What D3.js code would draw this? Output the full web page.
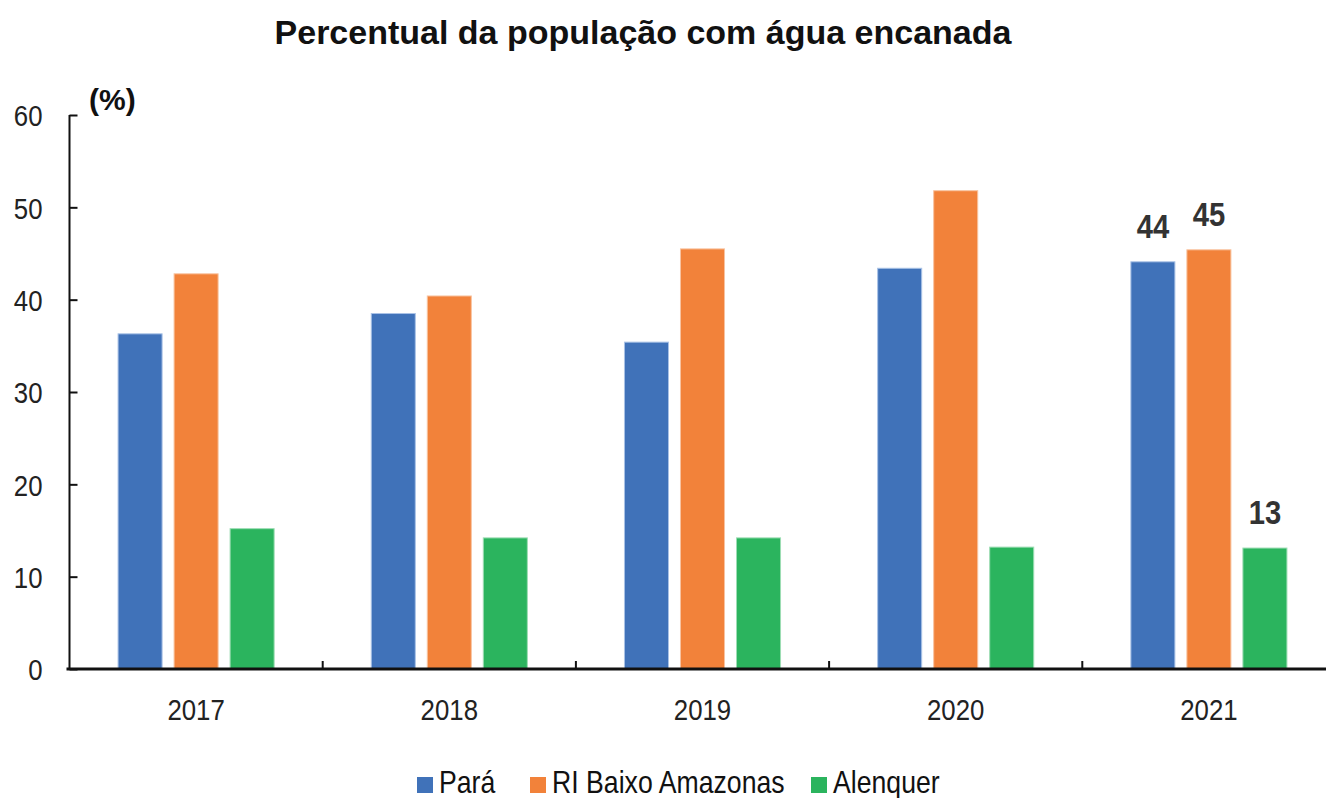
<!DOCTYPE html>
<html>
<head>
<meta charset="utf-8">
<script src="https://cdn.jsdelivr.net/npm/d3@7"></script>
<style>
  body { margin: 0; background: #fff; }
  svg { display: block; font-family: 'Liberation Sans Narrow', 'Arial Narrow', 'Liberation Sans', Arial, sans-serif; }
</style>
</head>
<body>
<div id="chart"></div>
<script>
const years = ['2017', '2018', '2019', '2020', '2021'];
const seriesNames = ['Pará', 'RI Baixo Amazonas', 'Alenquer'];
const para = [36.3, 38.5, 35.4, 43.4, 44.1];
const baixoAmazonas = [42.8, 40.4, 45.5, 51.8, 45.4];
const alenquer = [15.2, 14.2, 14.2, 13.2, 13.1];
const yTicks = [0, 10, 20, 30, 40, 50, 60];
// labels only shown on last year
const labelled = { '2021': true };

const colors = ['#4072B9', '#F2823A', '#2BB45E'];
const edges = ['#A9C2E6', '#F8C3A0', '#9DDDB4'];

const width = 1326, height = 798;
const plotLeft = 69.5, plotRight = 1335.5, plotTop = 115, plotBottom = 669;
// no narrow font installed, so squeeze text horizontally
const narrow = 0.86;

const svg = d3.select('#chart').append('svg')
  .attr('width', width)
  .attr('height', height);

const values = [para, baixoAmazonas, alenquer];
const rows = years.map((yr, i) => ({ year: yr, vals: values.map(v => v[i]) }));

const x = d3.scaleBand().domain(years).range([plotLeft, plotRight]).paddingInner(0).paddingOuter(0);
const xs = d3.scaleBand().domain(seriesNames).range([0, x.bandwidth()]).paddingInner(0.214).paddingOuter(0.867);
const y = d3.scaleLinear().domain([0, 60]).range([plotBottom, plotTop]);

// title
svg.append('text')
  .attr('x', 643).attr('y', 44)
  .attr('text-anchor', 'middle')
  .style('font-size', '34px').style('font-weight', 'bold').style('fill', '#111')
  .text('Percentual da população com água encanada');

svg.append('text')
  .attr('x', 89).attr('y', 110)
  .style('font-size', '30px').style('font-weight', 'bold').style('fill', '#111')
  .text('(%)');

// bars
const groups = svg.append('g').selectAll('g')
  .data(rows).enter().append('g')
  .attr('transform', d => 'translate(' + x(d.year) + ',0)');

groups.selectAll('rect')
  .data(d => d.vals.map((v, k) => ({ name: seriesNames[k], v: v, k: k })))
  .enter().append('rect')
  .attr('x', d => xs(d.name))
  .attr('y', d => y(d.v))
  .attr('width', xs.bandwidth())
  .attr('height', d => y(0) - y(d.v))
  .style('fill', d => colors[d.k])
  .style('stroke', d => edges[d.k])
  .style('stroke-width', 1);

groups.filter(d => labelled[d.year]).selectAll('text.lbl')
  .data(d => d.vals.map((v, k) => ({ name: seriesNames[k], v: v })))
  .enter().append('text')
  .attr('class', 'lbl')
  .attr('transform', d => 'translate(' + (xs(d.name) + xs.bandwidth() / 2) + ',' + (y(d.v) - 24) + ') scale(' + narrow + ',1)')
  .attr('text-anchor', 'middle')
  .style('font-size', '34px').style('font-weight', 'bold').style('fill', '#333')
  .text(d => Math.round(d.v));

// y axis
const yAxis = svg.append('g')
  .attr('transform', 'translate(' + plotLeft + ',0)')
  .call(d3.axisRight(y).tickValues(yTicks).tickSize(8).tickFormat(d3.format('d')));
yAxis.select('.domain').attr('d', 'M0,' + plotTop + 'V' + plotBottom).style('stroke', '#111').style('stroke-width', 2);
yAxis.selectAll('.tick line').style('stroke', '#111').style('stroke-width', 2);
yAxis.selectAll('.tick text')
  .attr('x', -27 / narrow).attr('dy', '0.36em')
  .attr('transform', 'scale(' + narrow + ',1)')
  .attr('text-anchor', 'end')
  .style('font-size', '30px').style('fill', '#222').style('font-family', null);

// x axis
const xAxis = svg.append('g')
  .attr('transform', 'translate(0,' + plotBottom + ')')
  .call(d3.axisBottom(x).tickSize(0).tickPadding(30));
xAxis.select('.domain').attr('d', 'M' + (plotLeft - 3) + ',0H' + plotRight).style('stroke', '#111').style('stroke-width', 3);
xAxis.selectAll('.tick text')
  .attr('transform', 'scale(' + narrow + ',1)')
  .style('font-size', '30px').style('fill', '#222').style('font-family', null);

// boundary ticks between years
svg.append('g').selectAll('line')
  .data(years.slice(1)).enter().append('line')
  .attr('x1', d => x(d)).attr('x2', d => x(d))
  .attr('y1', plotBottom).attr('y2', plotBottom - 8)
  .style('stroke', '#111').style('stroke-width', 2);

// legend
const legendX = [417, 530, 811];
const legend = svg.append('g').selectAll('g')
  .data(seriesNames).enter().append('g')
  .attr('transform', (d, i) => 'translate(' + legendX[i] + ',777)');
legend.append('rect')
  .attr('x', 0).attr('y', 0).attr('width', 16).attr('height', 16)
  .style('fill', (d, i) => colors[i]);
legend.append('text')
  .attr('transform', 'translate(22,16) scale(' + narrow + ',1)')
  .style('font-size', '31px').style('fill', '#111')
  .text(d => d);
</script>
</body>
</html>
